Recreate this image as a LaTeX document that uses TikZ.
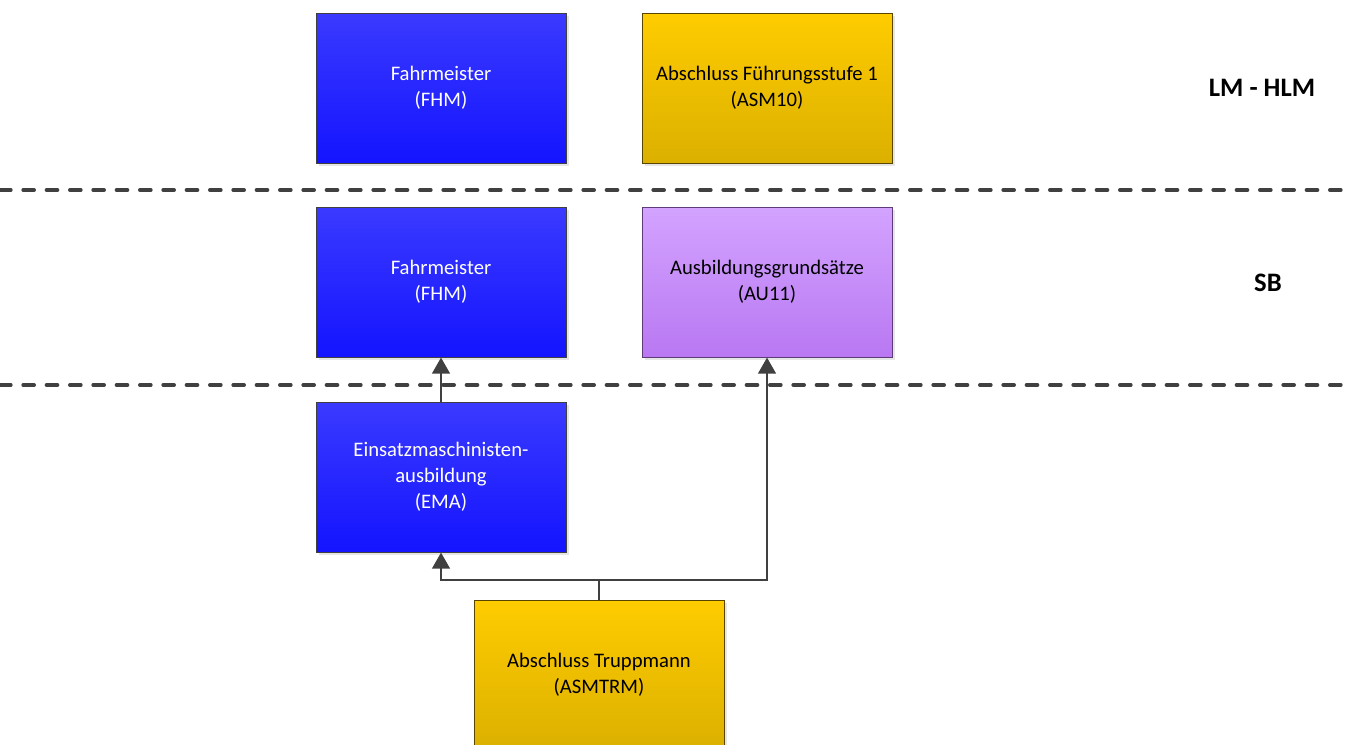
\documentclass[tikz,border=0pt]{standalone}
\usepackage{fontspec}
\setmainfont{Carlito}
\usetikzlibrary{arrows.meta,shadows}

\definecolor{blauoben}{HTML}{3A3AFF}
\definecolor{blauunten}{HTML}{1414FF}
\definecolor{goldoben}{HTML}{FFCC00}
\definecolor{goldunten}{HTML}{DBB000}
\definecolor{lilaoben}{HTML}{D3A3FF}
\definecolor{lilaunten}{HTML}{B978F2}
\definecolor{linie}{HTML}{404040}

\tikzset{
	kasten/.style={draw=linie, line width=0.75pt, minimum width=187.5pt, minimum height=112.5pt,
		align=center, font=\fontsize{15.5}{19.5}\selectfont,
		drop shadow={opacity=0.2, shadow xshift=2pt, shadow yshift=-2pt}},
	blaukasten/.style={kasten, top color=blauoben, bottom color=blauunten, text=white},
	goldkasten/.style={kasten, draw=black!60!goldunten, top color=goldoben, bottom color=goldunten},
	lilakasten/.style={kasten, draw=black!50!lilaunten, top color=lilaoben, bottom color=lilaunten},
	ebene/.style={font=\fontsize{20}{24}\selectfont\bfseries},
	trennlinie/.style={draw=linie, line width=3pt, line cap=round, dash pattern=on 8pt off 9.5pt},
	pfeil/.style={draw=linie, line width=2.2pt, -{Triangle[length=12pt,width=13pt]}}
}

\begin{document}
\begin{tikzpicture}[x=0.75pt,y=-0.75pt]
		\useasboundingbox (0,0) rectangle (1353,744);
		\clip (0,0) rectangle (1353,744);

		% Trennlinien
		\draw[trennlinie] (0,190) -- (1353,190);
		\draw[trennlinie] (0,385) -- (1353,385);

		% Ebenen
		\node[ebene] (lmhlm) at (1262,88) {LM - HLM};
		\node[ebene] (sb) at (1268,283) {SB};

		% Kaesten
		\node[blaukasten] (fhmoben) at (441,88) {Fahrmeister\\(FHM)};
		\node[goldkasten] (asmzehn) at (767,88) {Abschluss Führungsstufe 1\\(ASM10)};
		\node[blaukasten] (fhmmitte) at (441,282) {Fahrmeister\\(FHM)};
		\node[lilakasten] (auelf) at (767,282) {Ausbildungsgrundsätze\\(AU11)};
		\node[blaukasten] (ema) at (441,477) {Einsatzmaschinisten-\\ausbildung\\(EMA)};
		\node[goldkasten] (asmtrm) at (599,675) {Abschluss Truppmann\\(ASMTRM)};

		% Verbindungen
		\coordinate (verzweigung) at (599,580);
		\draw[draw=linie, line width=2.2pt] (asmtrm.north) -- (verzweigung);
		\draw[pfeil] (verzweigung) -| (ema.south);
		\draw[pfeil] (verzweigung) -| (auelf.south);
		\draw[pfeil] (ema.north) -- (fhmmitte.south);
	\end{tikzpicture}
\end{document}
